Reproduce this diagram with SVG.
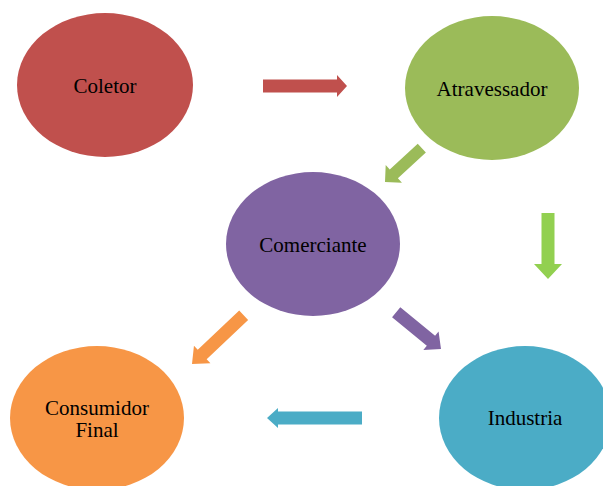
<svg xmlns="http://www.w3.org/2000/svg" width="603" height="486" viewBox="0 0 603 486">
<style>
text{font-family:"Liberation Serif","Times New Roman",serif;font-size:21px;fill:#000;text-anchor:middle}
</style>
<rect width="603" height="486" fill="#fff"/>
<g id="connectors">
<polygon transform="translate(347,86)" points="-84,-6.5 -10,-6.5 -10,-11 0,0 -10,11 -10,6.5 -84,6.5" fill="#c0504d"/>
<polygon transform="translate(385,182) rotate(137.4)" points="-50,-6 -12,-6 -12,-12 0,0 -12,12 -12,6 -50,6" fill="#9bbb59"/>
<polygon transform="translate(548,279) rotate(90)" points="-66,-6.5 -15,-6.5 -15,-14 0,0 -15,14 -15,6.5 -66,6.5" fill="#92d050"/>
<polygon transform="translate(192,364) rotate(136.7)" points="-71,-6.5 -14,-6.5 -14,-12 0,0 -14,12 -14,6.5 -71,6.5" fill="#f79646"/>
<polygon transform="translate(441,349) rotate(39.4)" points="-58,-6.5 -13,-6.5 -13,-12 0,0 -13,12 -13,6.5 -58,6.5" fill="#8064a2"/>
<polygon transform="translate(267,418) rotate(180)" points="-95,-6.5 -11,-6.5 -11,-10 0,0 -11,10 -11,6.5 -95,6.5" fill="#4bacc6"/>
</g>
<g id="coletor"><ellipse cx="105" cy="85" rx="88" ry="72" fill="#c0504d"/><text x="105" y="93">Coletor</text></g>
<g id="atravessador"><ellipse cx="492" cy="88" rx="87" ry="72" fill="#9bbb59"/><text x="492" y="96">Atravessador</text></g>
<g id="comerciante"><ellipse cx="313" cy="244" rx="87" ry="72" fill="#8064a2"/><text x="313" y="252">Comerciante</text></g>
<g id="consumidor"><ellipse cx="97" cy="418" rx="87" ry="72" fill="#f79646"/><text x="97" y="415">Consumidor</text><text x="97" y="437">Final</text></g>
<g id="industria"><ellipse cx="525" cy="418" rx="86" ry="72" fill="#4bacc6"/><text x="525" y="425">Industria</text></g>
</svg>
